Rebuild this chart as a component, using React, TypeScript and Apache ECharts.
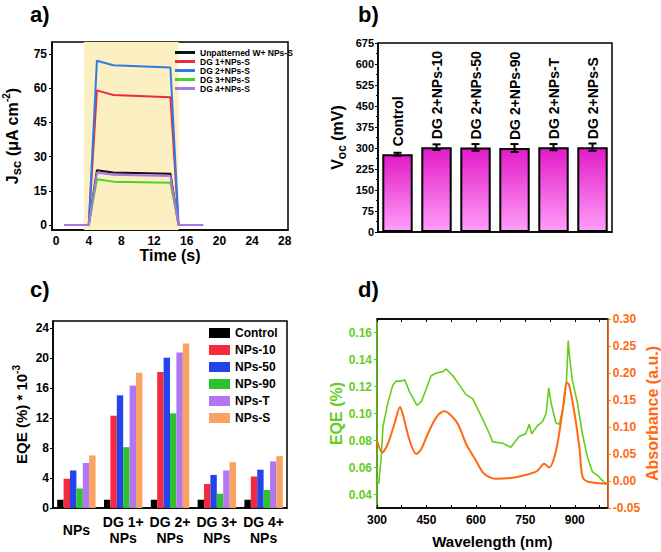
import React, { useEffect, useRef } from "react";
import * as echarts from "echarts";

// ---------- Panel a data ----------
const timePts = [1, 4, 5, 7, 14, 15, 18];
const jscNames = ["Unpatterned W+ NPs-S", "DG 1+NPs-S", "DG 2+NPs-S", "DG 3+NPs-S", "DG 4+NPs-S"];
const jscUnpatterned = [0, 0, 24, 23, 22.5, 0, 0];
const jscDG1 = [0, 0, 59, 57, 56, 0, 0];
const jscDG2 = [0, 0, 72, 70, 69, 0, 0];
const jscDG3 = [0, 0, 20, 19, 18.5, 0, 0];
const jscDG4 = [0, 0, 23, 22, 21.5, 0, 0];
const jscTicks = [0, 15, 30, 45, 60, 75];
const timeTicks = [0, 4, 8, 12, 16, 20, 24, 28];

// ---------- Panel b data ----------
const vocCats = ["Control", "DG 2+NPs-10", "DG 2+NPs-50", "DG 2+NPs-90", "DG 2+NPs-T", "DG 2+NPs-S"];
const vocVals = [278, 303, 302, 300, 303, 303];
const vocErr = [5, 10, 12, 14, 11, 13];

// ---------- Panel c data ----------
const eqeGroups = ["NPs", "DG 1+\nNPs", "DG 2+\nNPs", "DG 3+\nNPs", "DG 4+\nNPs"];
const eqeSeriesNames = ["Control", "NPs-10", "NPs-50", "NPs-90", "NPs-T", "NPs-S"];
const eqeControl = [1.1, 1.1, 1.1, 1.1, 1.1];
const eqeNPs10 = [3.9, 12.3, 18.1, 3.2, 4.2];
const eqeNPs50 = [5.0, 15.0, 20.0, 4.4, 5.1];
const eqeNPs90 = [2.6, 8.1, 12.6, 1.9, 2.4];
const eqeNPsT = [6.0, 16.3, 20.7, 5.0, 6.2];
const eqeNPsS = [7.0, 18.0, 21.9, 6.1, 6.9];
const eqeTicks = [0, 4, 8, 12, 16, 20, 24];

// ---------- Panel d data ----------
const eqeWl = [300, 305, 312, 318, 333, 348, 358, 373, 384, 399, 421, 435, 449, 464, 480, 500, 510, 530, 550, 570, 590, 606, 626, 641, 651, 681, 706, 731, 751, 762, 769, 787, 802, 813, 821, 828, 843, 853, 868, 875, 880, 885, 893, 908, 923, 938, 953, 974, 989, 1000];
const eqeSpec = [0.052, 0.048, 0.065, 0.09, 0.108, 0.121, 0.124, 0.124, 0.125, 0.116, 0.106, 0.109, 0.118, 0.128, 0.13, 0.131, 0.133, 0.128, 0.121, 0.114, 0.111, 0.103, 0.093, 0.085, 0.079, 0.078, 0.075, 0.083, 0.085, 0.092, 0.085, 0.091, 0.094, 0.1, 0.119, 0.108, 0.093, 0.092, 0.108, 0.125, 0.154, 0.14, 0.124, 0.108, 0.085, 0.068, 0.057, 0.053, 0.049, 0.048];
const absWl = [300, 316, 333, 353, 370, 378, 399, 419, 434, 454, 480, 505, 520, 545, 570, 585, 600, 621, 641, 661, 711, 762, 787, 807, 822, 843, 863, 876, 883, 898, 914, 924, 944, 1000];
const absSpec = [0.075, 0.053, 0.069, 0.106, 0.137, 0.124, 0.075, 0.05, 0.059, 0.087, 0.118, 0.129, 0.124, 0.106, 0.069, 0.053, 0.038, 0.016, 0.007, 0.004, 0.006, 0.013, 0.019, 0.032, 0.025, 0.056, 0.13, 0.183, 0.177, 0.13, 0.062, 0.007, -0.002, -0.005];
const wlTicks = [300, 450, 600, 750, 900];
const wlMinor = [300, 375, 450, 525, 600, 675, 750, 825, 900, 975];
const eqeLeftTicks = [0.04, 0.06, 0.08, 0.1, 0.12, 0.14, 0.16];
const absTicks = [-0.05, 0, 0.05, 0.1, 0.15, 0.2, 0.25, 0.3];

const FONT = '"Liberation Sans", Arial, Helvetica, sans-serif';
const GREEN = "#66cc1e";
const ORANGE = "#ff6a10";

const jscColors = ["#111111", "#f2283c", "#2e7be2", "#44d622", "#a874e6"];
const eqeColors = ["#000000", "#f52a3f", "#2244e8", "#2ec22e", "#b277f0", "#f9a262"];

const boldLabel = (size: number, color = "#000") => ({
  fontFamily: FONT,
  fontWeight: "bold" as const,
  fontSize: size,
  color,
});

export default function App() {
  const ref = useRef<HTMLDivElement>(null);
  useEffect(() => {
    document.body.style.margin = "0";
    if (!ref.current) return;
    const chart = echarts.init(ref.current, undefined, { renderer: "svg" });

    const jscData = [jscUnpatterned, jscDG1, jscDG2, jscDG3, jscDG4];
    const eqeData = [eqeControl, eqeNPs10, eqeNPs50, eqeNPs90, eqeNPsT, eqeNPsS];

    const lineSeries: any[] = jscNames.map((n, i) => ({
      name: n,
      type: "line",
      xAxisIndex: 0,
      yAxisIndex: 0,
      symbol: "none",
      color: jscColors[i],
      lineStyle: { width: 2, color: jscColors[i] },
      data: timePts.map((t, k) => [t, jscData[i][k]]),
      z: 3,
      ...(i === 0
        ? {
            markArea: {
              silent: true,
              itemStyle: { color: "#fcefc2" },
              data: [[{ xAxis: 3.4 }, { xAxis: 15 }]],
            },
          }
        : {}),
    }));

    const eqeBarSeries: any[] = eqeSeriesNames.map((n, i) => ({
      name: n,
      type: "bar",
      xAxisIndex: 2,
      yAxisIndex: 2,
      barGap: "0%",
      barCategoryGap: "18%",
      color: eqeColors[i],
      itemStyle: { color: eqeColors[i] },
      data: eqeData[i],
    }));

    const option: any = {
      animation: false,
      textStyle: { fontFamily: FONT },
      graphic: [
        { type: "text", left: 30, top: 3, style: { text: "a)", fill: "#000", font: `bold 22px ${FONT}` } },
        { type: "text", left: 358, top: 3, style: { text: "b)", fill: "#000", font: `bold 22px ${FONT}` } },
        { type: "text", left: 30, top: 278, style: { text: "c)", fill: "#000", font: `bold 22px ${FONT}` } },
        { type: "text", left: 358, top: 278, style: { text: "d)", fill: "#000", font: `bold 22px ${FONT}` } },
      ],
      grid: [
        { left: 52, top: 42, width: 236, height: 188, show: true, borderColor: "#000", borderWidth: 1.5, backgroundColor: "transparent" },
        { left: 378, top: 43, width: 234, height: 189, show: true, borderColor: "#000", borderWidth: 1.5, backgroundColor: "transparent" },
        { left: 53, top: 321, width: 234, height: 187, show: true, borderColor: "#000", borderWidth: 1.5, backgroundColor: "transparent" },
        { left: 377, top: 319, width: 232, height: 189, show: true, borderColor: "#000", borderWidth: 1.5, backgroundColor: "transparent" },
      ],
      legend: [
        {
          data: jscNames,
          orient: "vertical",
          left: 175,
          top: 48,
          itemWidth: 20,
          itemHeight: 3,
          itemGap: 0,
          icon: "rect",
          textStyle: { ...boldLabel(8.5), lineHeight: 7.3 },
          padding: 0,
        },
        {
          data: eqeSeriesNames,
          orient: "vertical",
          left: 209,
          top: 327,
          itemWidth: 21,
          itemHeight: 10,
          itemGap: 5,
          icon: "rect",
          textStyle: { ...boldLabel(12), lineHeight: 11 },
          padding: 0,
        },
      ],
      xAxis: [
        {
          gridIndex: 0,
          type: "value",
          min: -0.5,
          max: 28.4,
          name: "Time (s)",
          nameLocation: "middle",
          nameGap: 16,
          nameTextStyle: boldLabel(16),
          axisLine: { onZero: false, lineStyle: { color: "#000", width: 1.5 } },
          axisTick: { show: false, customValues: timeTicks },
          axisLabel: { ...boldLabel(12), margin: 5, customValues: timeTicks },
          splitLine: { show: false },
        },
        {
          gridIndex: 1,
          type: "category",
          data: vocCats,
          axisLine: { onZero: false, lineStyle: { color: "#000", width: 1.5 } },
          axisTick: { show: false },
          axisLabel: { show: false },
        },
        {
          gridIndex: 2,
          type: "category",
          data: eqeGroups,
          axisLine: { onZero: false, lineStyle: { color: "#000", width: 1.5 } },
          axisTick: { show: false },
          axisLabel: { ...boldLabel(14), lineHeight: 16, verticalAlign: "middle", margin: 22, interval: 0 },
        },
        {
          gridIndex: 3,
          type: "value",
          min: 300,
          max: 1000,
          name: "Wavelength (nm)",
          nameLocation: "middle",
          nameGap: 26,
          nameTextStyle: boldLabel(15),
          axisLine: { onZero: false, lineStyle: { color: "#000", width: 1.5 } },
          axisTick: { inside: true, length: 3, customValues: wlMinor, lineStyle: { color: "#000" } },
          axisLabel: { ...boldLabel(12), margin: 6, customValues: wlTicks },
          splitLine: { show: false },
        },
        {
          gridIndex: 3,
          type: "value",
          position: "top",
          min: 300,
          max: 1000,
          axisLine: { onZero: false, lineStyle: { color: "#000", width: 1.5 } },
          axisTick: { inside: true, length: 3, customValues: wlMinor, lineStyle: { color: "#000" } },
          axisLabel: { show: false, customValues: wlTicks },
          splitLine: { show: false },
        },
      ],
      yAxis: [
        {
          gridIndex: 0,
          type: "value",
          min: -2.2,
          max: 80.2,
          name: "{b|J}{s|sc}{b| (μA cm}{p|-2}{b|)}",
          nameLocation: "middle",
          nameGap: 29,
          nameRotate: 90,
          nameTextStyle: {
            rich: {
              b: { ...boldLabel(16), lineHeight: 22, verticalAlign: "middle" },
              s: { ...boldLabel(13), lineHeight: 22, verticalAlign: "bottom", padding: [4, 0, 0, 0] },
              p: { ...boldLabel(10), lineHeight: 22, verticalAlign: "top" },
            },
          },
          axisLine: { show: true, onZero: false, lineStyle: { color: "#000", width: 1.5 } },
          axisTick: { show: true, length: 3, customValues: jscTicks, lineStyle: { color: "#000" } },
          axisLabel: { ...boldLabel(12), margin: 5, customValues: jscTicks },
          splitLine: { show: false },
        },
        {
          gridIndex: 1,
          type: "value",
          min: 0,
          max: 675,
          interval: 75,
          name: "{b|V}{s|oc}{b| (mV)}",
          nameLocation: "middle",
          nameGap: 30,
          nameRotate: 90,
          nameTextStyle: {
            rich: {
              b: { ...boldLabel(16), lineHeight: 22, verticalAlign: "middle" },
              s: { ...boldLabel(12), lineHeight: 22, verticalAlign: "bottom" },
            },
          },
          axisLine: { show: true, onZero: false, lineStyle: { color: "#000", width: 1.5 } },
          axisTick: { show: true, length: 3, lineStyle: { color: "#000" } },
          minorTick: { show: true, splitNumber: 2, length: 2, lineStyle: { color: "#000" } },
          axisLabel: { ...boldLabel(11), margin: 4 },
          splitLine: { show: false },
        },
        {
          gridIndex: 2,
          type: "value",
          min: 0,
          max: 24.9,
          name: "{b|EQE (%) * 10}{p|-3}",
          nameLocation: "middle",
          nameGap: 22,
          nameRotate: 90,
          nameTextStyle: {
            rich: {
              b: { ...boldLabel(15), lineHeight: 20, verticalAlign: "middle" },
              p: { ...boldLabel(10), lineHeight: 20, verticalAlign: "top" },
            },
          },
          axisLine: { show: true, onZero: false, lineStyle: { color: "#000", width: 1.5 } },
          axisTick: { show: true, length: 3, customValues: eqeTicks, lineStyle: { color: "#000" } },
          axisLabel: { ...boldLabel(12), margin: 4, customValues: eqeTicks },
          splitLine: { show: false },
        },
        {
          gridIndex: 3,
          type: "value",
          min: 0.03,
          max: 0.17,
          name: "EQE (%)",
          nameLocation: "middle",
          nameGap: 33,
          nameRotate: 90,
          nameTextStyle: boldLabel(16, GREEN),
          axisLine: { show: true, onZero: false, lineStyle: { color: GREEN, width: 1.5 } },
          axisTick: { show: true, length: 3, customValues: eqeLeftTicks, lineStyle: { color: GREEN } },
          axisLabel: {
            ...boldLabel(12, GREEN),
            margin: 5,
            customValues: eqeLeftTicks,
            formatter: (v: number) => v.toFixed(2),
          },
          splitLine: { show: false },
        },
        {
          gridIndex: 3,
          type: "value",
          position: "right",
          min: -0.05,
          max: 0.3,
          name: "Absorbance (a.u.)",
          nameLocation: "middle",
          nameGap: 34,
          nameRotate: 90,
          nameTextStyle: boldLabel(16, ORANGE),
          axisLine: { show: true, onZero: false, lineStyle: { color: ORANGE, width: 1.5 } },
          axisTick: { show: true, length: 3, customValues: absTicks, lineStyle: { color: ORANGE } },
          axisLabel: {
            ...boldLabel(12, ORANGE),
            margin: 5,
            customValues: absTicks,
            formatter: (v: number) => v.toFixed(2),
          },
          splitLine: { show: false },
        },
      ],
      series: [
        ...lineSeries,
        {
          name: "Voc",
          type: "bar",
          xAxisIndex: 1,
          yAxisIndex: 1,
          barWidth: "78%",
          itemStyle: {
            borderColor: "#000",
            borderWidth: 2,
            color: new echarts.graphic.LinearGradient(0, 0, 0, 1, [
              { offset: 0, color: "#e21ac8" },
              { offset: 1, color: "#ff9ff9" },
            ]),
          },
          label: {
            show: true,
            position: "top",
            rotate: 90,
            align: "left",
            verticalAlign: "middle",
            distance: 8,
            formatter: "{b}",
            ...boldLabel(14),
          },
          data: vocVals,
        },
        {
          name: "VocErr",
          type: "custom",
          xAxisIndex: 1,
          yAxisIndex: 1,
          z: 5,
          renderItem: (params: any, api: any) => {
            const x = api.value(0);
            const lo = api.coord([x, api.value(1)]);
            const hi = api.coord([x, api.value(2)]);
            const hw = 4;
            const st = { stroke: "#000", lineWidth: 2 };
            return {
              type: "group",
              children: [
                { type: "line", shape: { x1: lo[0], y1: lo[1], x2: hi[0], y2: hi[1] }, style: st },
                { type: "line", shape: { x1: lo[0] - hw, y1: lo[1], x2: lo[0] + hw, y2: lo[1] }, style: st },
                { type: "line", shape: { x1: hi[0] - hw, y1: hi[1], x2: hi[0] + hw, y2: hi[1] }, style: st },
              ],
            };
          },
          data: vocVals.map((v, i) => [i, v - vocErr[i], v + vocErr[i]]),
        },
        ...eqeBarSeries,
        {
          name: "EQE spectrum",
          type: "line",
          xAxisIndex: 3,
          yAxisIndex: 3,
          symbol: "none",
          color: GREEN,
          lineStyle: { width: 1.6, color: GREEN },
          data: eqeWl.map((w, i) => [w, eqeSpec[i]]),
        },
        {
          name: "Absorbance",
          type: "line",
          xAxisIndex: 3,
          yAxisIndex: 4,
          symbol: "none",
          smooth: 0.3,
          color: ORANGE,
          lineStyle: { width: 2, color: ORANGE },
          data: absWl.map((w, i) => [w, absSpec[i]]),
        },
      ],
    };

    chart.setOption(option);
    return () => chart.dispose();
  }, []);

  return <div ref={ref} style={{ width: 661, height: 552 }} />;
}
